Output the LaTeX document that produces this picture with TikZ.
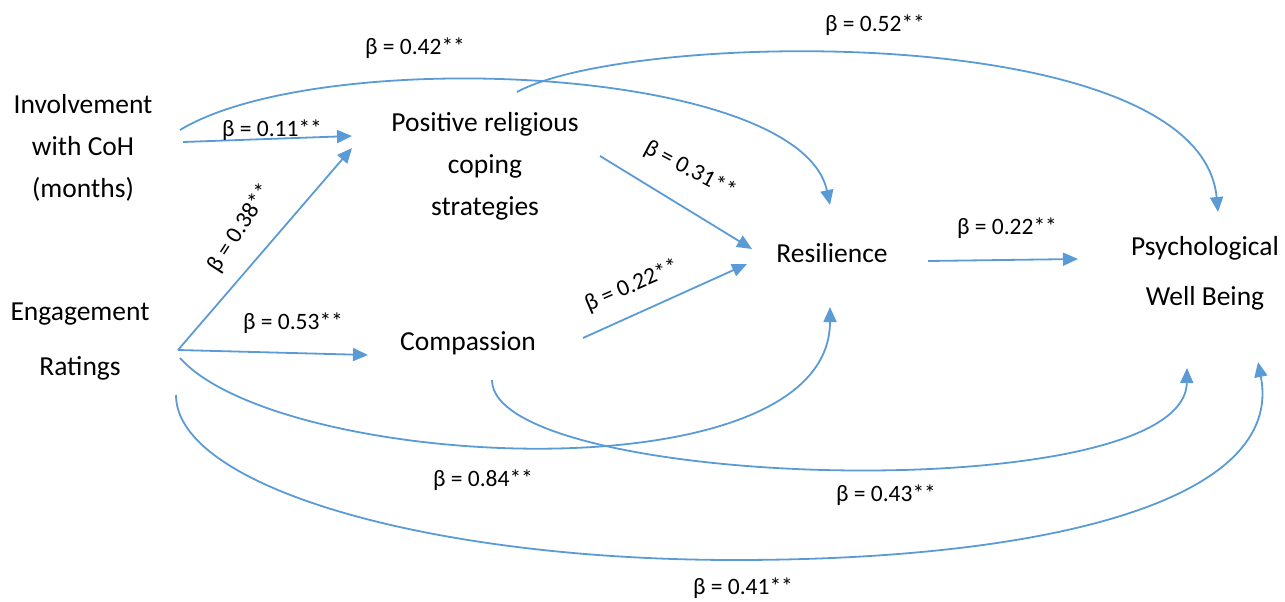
\documentclass[tikz,border=0pt]{standalone}
\usepackage{fontspec}
\setmainfont{Carlito}
\usetikzlibrary{arrows.meta}
\definecolor{lineblue}{RGB}{91,155,213}
\begin{document}
\begin{tikzpicture}[x=1pt,y=-1pt,
  conn/.style={draw=lineblue, line width=1.8pt, -{Triangle[length=15pt,width=13pt]}},
  txt/.style={font=\fontsize{27.5}{42}\selectfont, align=center, inner sep=0pt},
  lbl/.style={font=\fontsize{23.5}{28}\selectfont, inner sep=0pt}]
\useasboundingbox (0,0) rectangle (1285,602);
% variables
\node[txt] (inv) at (83,148) {Involvement\\with CoH\\(months)};
\node[txt] (prc) at (485,166) {Positive religious\\coping\\strategies};
\node[txt, font=\fontsize{27.5}{55}\selectfont] (eng) at (80,342) {Engagement\\Ratings};
\node[txt] (com) at (468,343) {Compassion};
\node[txt] (res) at (832,253) {Resilience};
\node[txt, font=\fontsize{27.5}{50}\selectfont] (pwb) at (1205,273) {Psychological\\Well Being};
% connector ends
\coordinate (invA) at (183,142);
\coordinate (invB) at (180,130);
\coordinate (engA) at (178,350);
\coordinate (engB) at (180,358);
\coordinate (engC) at (176,395);
\coordinate (prcIn1) at (352,136);
\coordinate (prcIn2) at (352,148);
\coordinate (prcOut) at (600,156);
\coordinate (prcTop) at (517,92);
\coordinate (comIn) at (368,355);
\coordinate (comOut) at (583,338);
\coordinate (comBot) at (492,380);
\coordinate (resIn1) at (752,249);
\coordinate (resIn2) at (747,264);
\coordinate (resTop) at (830,205);
\coordinate (resBot) at (830,307);
\coordinate (resOut) at (928,261);
\coordinate (pwbIn) at (1078,259);
\coordinate (pwbTop) at (1218,212);
\coordinate (pwbBot1) at (1187,368);
\coordinate (pwbBot2) at (1258,362);
% straight paths
\draw[conn] (invA) -- (prcIn1);
\draw[conn] (engA) -- (prcIn2);
\draw[conn] (engA) -- (comIn);
\draw[conn] (prcOut) -- (resIn1);
\draw[conn] (comOut) -- (resIn2);
\draw[conn] (resOut) -- (pwbIn);
% curved paths
\draw[conn] (invB) .. controls (320,45) and (800,65) .. (resTop);
\draw[conn] (prcTop) .. controls (630,30) and (1200,20) .. (pwbTop);
\draw[conn] (engB) .. controls (280,470) and (830,500) .. (resBot);
\draw[conn] (comBot) .. controls (492,490) and (1185,510) .. (pwbBot1);
\draw[conn] (engC) .. controls (176,486) and (426,560) .. (735,560) .. controls (1050,560) and (1285,500) .. (pwbBot2);
% labels
\node[lbl] (l11) at (272,130) {β = 0.11**};
\node[lbl, rotate=57] (l38) at (240,228) {β = 0.38**};
\node[lbl] (l53) at (293,323) {β = 0.53**};
\node[lbl, rotate=-28] (l31) at (690,170) {β = 0.31**};
\node[lbl, rotate=23.5] (l22c) at (632,286) {β = 0.22**};
\node[lbl] (l22r) at (1007,228) {β = 0.22**};
\node[lbl] (l42) at (415,48) {β = 0.42**};
\node[lbl] (l52) at (875,25) {β = 0.52**};
\node[lbl] (l84) at (483,480) {β = 0.84**};
\node[lbl] (l43) at (886,495) {β = 0.43**};
\node[lbl] (l41) at (743,588) {β = 0.41**};
\end{tikzpicture}
\end{document}
